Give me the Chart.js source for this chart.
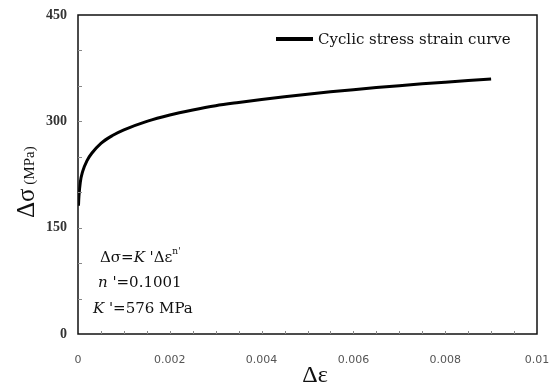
<!DOCTYPE html>
<html>
<head>
<meta charset="utf-8">
<script src="https://cdn.jsdelivr.net/npm/chart.js@4.4.0/dist/chart.umd.min.js"></script>
<style>
  body { margin: 0; background: #fff; }
</style>
</head>
<body>
<canvas id="chart" width="550" height="385"></canvas>
<script>
// values
const strain = [0.00001, 0.00002, 0.00005, 0.0001, 0.0002, 0.0003, 0.0005, 0.00075, 0.001, 0.0015,
  0.002, 0.0025, 0.003, 0.0035, 0.004, 0.0045, 0.005, 0.0055, 0.006, 0.0065, 0.007, 0.0075, 0.008, 0.0085, 0.009];
const stress = [181, 194, 214, 229, 245, 255, 269, 280, 288, 300,
  309, 316, 322, 326.6, 330.8, 334.7, 338.3, 341.6, 344.7, 347.6, 350.3, 352.9, 355.3, 357.6, 359.8];
const xTicks = [0, 0.002, 0.004, 0.006, 0.008, 0.01];
const yTicks = [0, 150, 300, 450];
const seriesName = 'Cyclic stress strain curve';

const SERIF = '"Liberation Serif", "DejaVu Serif", serif';
const WIDE_SERIF = '"DejaVu Serif", serif';

// draws a row of text pieces with their own fonts
function drawRuns(ctx, x, y, runs) {
  runs.forEach(r => {
    ctx.font = r.font;
    ctx.fillText(r.text, x, y + (r.dy || 0));
    x += ctx.measureText(r.text).width;
  });
}

const decorations = {
  id: 'decorations',
  afterDraw(chart) {
    const ctx = chart.ctx;
    const area = chart.chartArea;
    const xs = chart.scales.x, ys = chart.scales.y;
    ctx.save();

    // frame round the plot
    ctx.strokeStyle = '#111';
    ctx.lineWidth = 1.5;
    ctx.strokeRect(area.left, area.top, area.right - area.left, area.bottom - area.top);

    // small ticks on the inside
    ctx.strokeStyle = '#888';
    ctx.lineWidth = 1;
    ctx.beginPath();
    for (let v = 50; v < 450; v += 50) {
      const py = Math.round(ys.getPixelForValue(v)) + 0.5;
      ctx.moveTo(area.left, py);
      ctx.lineTo(area.left + 4, py);
    }
    for (let i = 1; i < 20; i++) {
      const px = Math.round(xs.getPixelForValue(i * 0.0005)) + 0.5;
      ctx.moveTo(px, area.bottom);
      ctx.lineTo(px, area.bottom - 3);
    }
    ctx.stroke();

    // legend inside the plot, top right
    const ds = chart.data.datasets[0];
    ctx.fillStyle = ds.borderColor;
    ctx.fillRect(276, 37, 37, 4);
    ctx.fillStyle = '#111';
    ctx.textBaseline = 'alphabetic';
    ctx.textAlign = 'left';
    ctx.font = '15px ' + WIDE_SERIF;
    ctx.fillText(ds.label, 318, 44);

    // x title
    ctx.font = '24px ' + SERIF;
    ctx.textAlign = 'center';
    ctx.fillText('Δε', 315, 382);

    // y title, rotated
    ctx.save();
    ctx.translate(34, 218);
    ctx.rotate(-Math.PI / 2);
    ctx.textAlign = 'left';
    drawRuns(ctx, 0, 0, [
      { text: 'Δσ', font: '25px ' + SERIF },
      { text: ' (MPa)', font: '15px ' + SERIF }
    ]);
    ctx.restore();

    // equation text
    ctx.textAlign = 'left';
    drawRuns(ctx, 100, 262, [
      { text: 'Δσ=', font: '15px ' + WIDE_SERIF },
      { text: 'K', font: 'italic 15px ' + WIDE_SERIF },
      { text: ' \'Δε', font: '15px ' + WIDE_SERIF },
      { text: 'n\'', font: '9px ' + WIDE_SERIF, dy: -8 }
    ]);
    drawRuns(ctx, 98, 287, [
      { text: 'n', font: 'italic 15px ' + WIDE_SERIF },
      { text: ' \'=0.1001', font: '15px ' + WIDE_SERIF }
    ]);
    drawRuns(ctx, 93, 313, [
      { text: 'K', font: 'italic 15px ' + WIDE_SERIF },
      { text: ' \'=576 MPa', font: '15px ' + WIDE_SERIF }
    ]);
    ctx.restore();
  }
};

new Chart(document.getElementById('chart'), {
  type: 'line',
  data: {
    datasets: [{
      label: seriesName,
      data: strain.map((x, i) => ({ x: x, y: stress[i] })),
      borderColor: '#000',
      backgroundColor: '#000',
      borderWidth: 3,
      pointRadius: 0,
      cubicInterpolationMode: 'monotone',
      fill: false
    }]
  },
  options: {
    responsive: false,
    devicePixelRatio: 1,
    animation: false,
    layout: { padding: { top: 15, right: 13, left: 0, bottom: 0 } },
    plugins: {
      legend: { display: false },
      tooltip: { enabled: false }
    },
    scales: {
      x: {
        type: 'linear',
        min: 0,
        max: 0.01,
        afterBuildTicks: s => { s.ticks = xTicks.map(v => ({ value: v })); },
        afterFit: s => { s.height = 51; s.paddingLeft = 0; s.paddingRight = 0; },
        grid: { drawOnChartArea: false, drawTicks: false },
        border: { display: false },
        ticks: {
          padding: 20,
          maxRotation: 0,
          autoSkip: false,
          color: '#555',
          font: { family: '"DejaVu Sans", sans-serif', size: 11 },
          callback: v => v === 0 ? '0' : String(+v.toFixed(3))
        }
      },
      y: {
        min: 0,
        max: 450,
        afterBuildTicks: s => { s.ticks = yTicks.map(v => ({ value: v })); },
        afterFit: s => { s.width = 78; s.paddingTop = 0; s.paddingBottom = 0; },
        grid: { drawOnChartArea: false, drawTicks: false },
        border: { display: false },
        ticks: {
          padding: 11,
          color: '#333',
          font: { family: SERIF, size: 14, weight: 'bold' }
        }
      }
    }
  },
  plugins: [decorations]
});
</script>
</body>
</html>
